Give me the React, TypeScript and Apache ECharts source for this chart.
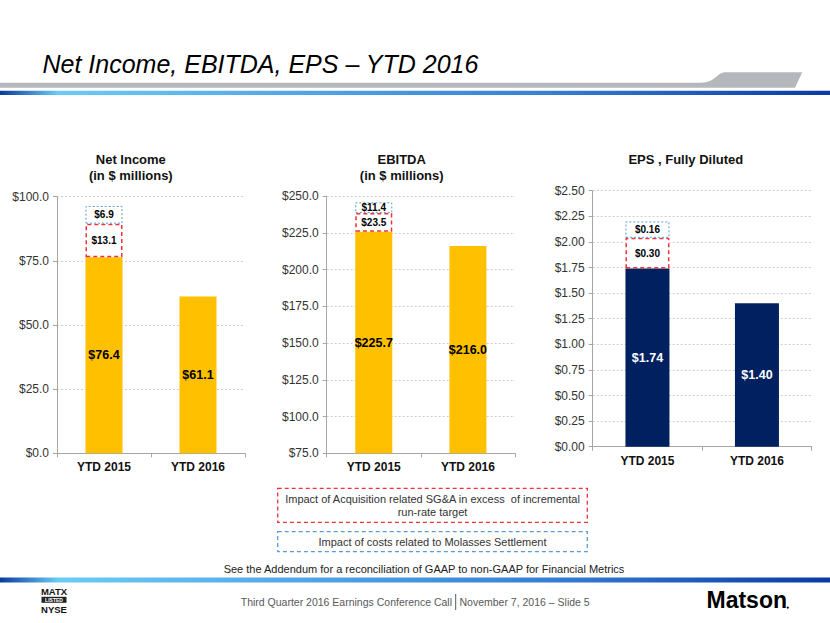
import React, { useEffect, useRef } from "react";
import * as echarts from "echarts";

// ---- data ----
const categories = ["YTD 2015", "YTD 2016"];

const netIncome = [76.4, 61.1];
const netIncomeSga = [13.1, null];
const netIncomeMolasses = [6.9, null];
const netIncomeTicks = { min: 0, max: 100, interval: 25 };

const ebitda = [225.7, 216.0];
// labelled amounts
const ebitdaSga = [23.5, null];
const ebitdaMolasses = [11.4, null];
// heights as drawn in the picture
const ebitdaSgaDrawn = [12.8, null];
const ebitdaMolassesDrawn = [7.2, null];
const ebitdaTicks = { min: 75, max: 250, interval: 25 };

const eps = [1.74, 1.4];
const epsSga = [0.3, null];
const epsMolasses = [0.16, null];
const epsTicks = { min: 0, max: 2.5, interval: 0.25 };

const FONT = "Liberation Sans, Arial, Helvetica, sans-serif";

export default function App() {
  const ref = useRef<HTMLDivElement>(null);

  useEffect(() => {
    if (!ref.current) return;
    const chart = echarts.init(ref.current, null, { renderer: "svg" });

    const grids = [
      { left: 57, top: 196.7, width: 188, height: 256.6 },
      { left: 326.7, top: 196, width: 188.3, height: 257.3 },
      { left: 592.7, top: 190.7, width: 219, height: 256 },
    ];

    const xAxes = grids.map((_, i) => ({
      type: "category",
      gridIndex: i,
      data: categories,
      axisLine: { lineStyle: { color: "#a6a6a6", width: 1 } },
      axisTick: { show: true, length: 4, lineStyle: { color: "#a6a6a6" } },
      axisLabel: {
        color: "#111",
        fontFamily: FONT,
        fontSize: 12,
        fontWeight: "bold",
        margin: 8,
      },
    }));

    const fmt = (d: number) => (v: number) => "$" + v.toFixed(d);
    const yDefs = [
      { t: netIncomeTicks, d: 1 },
      { t: ebitdaTicks, d: 1 },
      { t: epsTicks, d: 2 },
    ];
    const yAxes = yDefs.map((y, i) => ({
      type: "value",
      gridIndex: i,
      min: y.t.min,
      max: y.t.max,
      interval: y.t.interval,
      axisLine: { show: true, lineStyle: { color: "#a6a6a6", width: 1 } },
      axisTick: { show: true, length: 4, lineStyle: { color: "#a6a6a6" } },
      splitLine: { show: true, lineStyle: { color: "#cfcfcf", type: [2, 2], width: 1 } },
      axisLabel: {
        color: "#333",
        fontFamily: FONT,
        fontSize: 12,
        margin: 8,
        formatter: fmt(y.d),
      },
    }));

    const baseLabel = (color: string, d: number) => ({
      show: true,
      position: "inside",
      color,
      fontFamily: FONT,
      fontSize: 12.5,
      fontWeight: "bold",
      formatter: (p: any) => "$" + Number(p.value).toFixed(d),
    });
    const boxLabel = (texts: (number | null)[], d: number) => ({
      show: true,
      position: "inside",
      color: "#000",
      fontFamily: FONT,
      fontSize: 10,
      fontWeight: "bold",
      formatter: (p: any) => {
        const v = texts[p.dataIndex];
        return v == null ? "" : "$" + v.toFixed(d);
      },
    });
    const redStyle = {
      color: "#ffffff",
      borderColor: "#f0323c",
      borderWidth: 1.5,
      borderType: [4, 3],
    };
    const blueStyle = {
      color: "#ffffff",
      borderColor: "#5b9bd5",
      borderWidth: 1,
      borderType: [2, 2],
    };

    const mk = (
      i: number,
      base: number[],
      sga: (number | null)[],
      mol: (number | null)[],
      sgaTxt: (number | null)[],
      molTxt: (number | null)[],
      color: string,
      lblColor: string,
      d: number,
      bd: number,
      bw: number
    ) => [
      {
        type: "bar",
        xAxisIndex: i,
        yAxisIndex: i,
        stack: "s" + i,
        barWidth: bw,
        data: base,
        itemStyle: { color },
        label: baseLabel(lblColor, d),
      },
      {
        type: "bar",
        xAxisIndex: i,
        yAxisIndex: i,
        stack: "s" + i,
        barWidth: bw,
        data: sga.map((v) => (v == null ? "-" : v)),
        itemStyle: redStyle,
        label: boxLabel(sgaTxt, bd),
      },
      {
        type: "bar",
        xAxisIndex: i,
        yAxisIndex: i,
        stack: "s" + i,
        barWidth: bw,
        data: mol.map((v) => (v == null ? "-" : v)),
        itemStyle: blueStyle,
        label: boxLabel(molTxt, bd),
      },
    ];

    const series = [
      ...mk(0, netIncome, netIncomeSga, netIncomeMolasses, netIncomeSga, netIncomeMolasses, "#ffc000", "#000", 1, 1, 37),
      ...mk(1, ebitda, ebitdaSgaDrawn, ebitdaMolassesDrawn, ebitdaSga, ebitdaMolasses, "#ffc000", "#000", 1, 1, 37),
      ...mk(2, eps, epsSga, epsMolasses, epsSga, epsMolasses, "#002060", "#ffffff", 2, 2, 44),
    ];

    const txt = (
      text: string,
      x: number,
      y: number,
      size: number,
      opts: any = {}
    ) => ({
      type: "text",
      x,
      y,
      style: {
        text,
        fontFamily: FONT,
        fontSize: size,
        fill: opts.fill || "#111",
        fontWeight: opts.weight || "normal",
        fontStyle: opts.italic ? "italic" : "normal",
        align: opts.align || "center",
        verticalAlign: "middle",
      },
    });

    const mkGrad = () =>
      new echarts.graphic.LinearGradient(0, 0, 1, 0, [
        { offset: 0, color: "#0b3a9e" },
        { offset: 0.07, color: "#68cdf5" },
        { offset: 0.3, color: "#56aeea" },
        { offset: 0.65, color: "#3781d6" },
        { offset: 1, color: "#0a3aa5" },
      ]);

    const graphic: any[] = [
      // header
      txt("Net Income, EBITDA, EPS – YTD 2016", 42.5, 64.2, 25, {
        italic: true,
        align: "left",
        fill: "#000",
      }),
      {
        type: "polygon",
        shape: {
          points: [
            [0, 82.7],
            [700, 82.7],
            [706, 82.2],
            [711, 80.5],
            [716, 77],
            [720, 73.8],
            [724, 72.3],
            [802.3, 72.3],
            [795, 87.7],
            [0, 87.7],
          ],
        },
        style: { fill: "#b4b8bd" },
      },
      { type: "rect", shape: { x: 0, y: 90.7, width: 830, height: 4.3 }, style: { fill: mkGrad() } },

      // chart titles
      txt("Net Income", 130.8, 159.3, 13, { weight: "bold" }),
      txt("(in $ millions)", 130.8, 175, 13, { weight: "bold" }),
      txt("EBITDA", 401.7, 159.8, 13, { weight: "bold" }),
      txt("(in $ millions)", 401.7, 175, 13, { weight: "bold" }),
      txt("EPS , Fully Diluted", 685.8, 159.3, 13, { weight: "bold" }),

      // legend boxes
      {
        type: "rect",
        shape: { x: 277.7, y: 488.3, width: 309.6, height: 34 },
        style: { fill: "#fff", stroke: "#f0323c", lineWidth: 1.3, lineDash: [4, 3] },
      },
      txt("Impact of Acquisition related SG&A in excess  of incremental", 432.5, 499.3, 11, { fill: "#333" }),
      txt("run-rate target", 432.5, 511.7, 11, { fill: "#333" }),
      {
        type: "rect",
        shape: { x: 277.7, y: 531.7, width: 309.6, height: 20 },
        style: { fill: "#fff", stroke: "#5b9bd5", lineWidth: 1.3, lineDash: [4, 3] },
      },
      txt("Impact of costs related to Molasses Settlement", 432.5, 541.7, 11, { fill: "#333" }),
      txt("See the Addendum for a reconciliation of GAAP to non-GAAP for Financial Metrics", 424, 569, 11, {
        fill: "#222",
      }),

      // footer
      { type: "rect", shape: { x: 0, y: 577.5, width: 830, height: 5 }, style: { fill: mkGrad() } },
      txt("MATX", 54, 591, 9.5, { weight: "bold", fill: "#111" }),
      { type: "rect", shape: { x: 41.5, y: 596.8, width: 25, height: 6 }, style: { fill: "#222" } },
      txt("LISTED", 54, 600, 5, { weight: "bold", fill: "#fff" }),
      txt("NYSE", 54, 609, 9.5, { weight: "bold", fill: "#111" }),
      txt("Third Quarter 2016 Earnings Conference Call", 452, 601.7, 10.5, { align: "right", fill: "#595959" }),
      { type: "line", shape: { x1: 455.7, y1: 594, x2: 455.7, y2: 610 }, style: { stroke: "#595959", lineWidth: 1 } },
      txt("November 7, 2016 – Slide 5", 459.5, 601.7, 10.5, { align: "left", fill: "#595959" }),
      txt("Matson", 706.5, 600.4, 23, { align: "left", weight: "bold", fill: "#000" }),
      { type: "circle", shape: { cx: 787.8, cy: 607.6, r: 1.1 }, style: { fill: "#000" } },
    ];

    chart.setOption({
      animation: false,
      backgroundColor: "#ffffff",
      textStyle: { fontFamily: FONT },
      grid: grids,
      xAxis: xAxes,
      yAxis: yAxes,
      series,
      graphic,
    });

    return () => chart.dispose();
  }, []);

  return (
    <div
      ref={ref}
      style={{ position: "fixed", left: 0, top: 0, width: 830, height: 623, background: "#fff" }}
    />
  );
}
